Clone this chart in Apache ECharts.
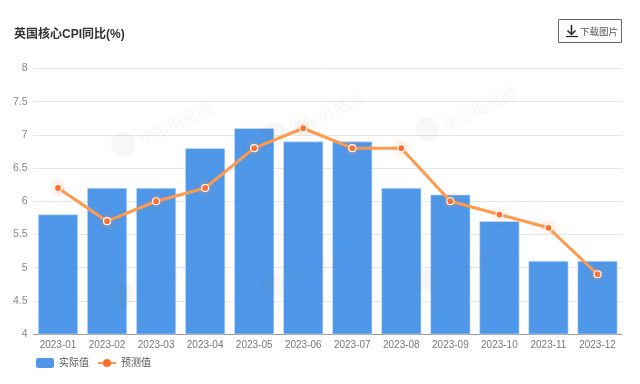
<!DOCTYPE html>
<html>
<head>
<meta charset="utf-8">
<style>
  html, body { margin: 0; padding: 0; background: #fff; }
  #chart { width: 640px; height: 384px; }
</style>
<script src="https://cdn.jsdelivr.net/npm/echarts@6/dist/echarts.min.js"></script>
</head>
<body>
<div id="chart"></div>
<script>
const months = ['2023-01', '2023-02', '2023-03', '2023-04', '2023-05', '2023-06',
  '2023-07', '2023-08', '2023-09', '2023-10', '2023-11', '2023-12']
const actual = [5.8, 6.2, 6.2, 6.8, 7.1, 6.9, 6.9, 6.2, 6.1, 5.7, 5.1, 5.1]
const forecast = [6.2, 5.7, 6.0, 6.2, 6.8, 7.1, 6.8, 6.8, 6.0, 5.8, 5.6, 4.9]

const font = '"Liberation Sans", "Noto Sans CJK SC", sans-serif'

// watermark stamps, laid faintly over the bars
function stamp(x, y) {
  return [
    { type: 'circle', z: 3, shape: { cx: x, cy: y, r: 12 }, style: { fill: 'rgba(120,120,120,0.06)' } },
    { type: 'text', z: 3, x: x + 16, y: y - 3, rotation: 25 * Math.PI / 180, originX: 0, originY: 0,
      style: { text: '华尔街见闻', fill: 'rgba(120,120,120,0.06)', font: 'bold 16px "Noto Serif CJK SC", "Noto Sans CJK SC"', verticalAlign: 'middle' } }
  ]
}

const chart = echarts.init(document.getElementById('chart'))
chart.setOption({
  animation: false,
  backgroundColor: '#fff',
  title: {
    text: '英国核心CPI同比(%)',
    left: 14,
    top: 29,
    padding: 0,
    textStyle: { fontSize: 12, fontWeight: 'bold', color: '#333', fontFamily: font }
  },
  legend: {
    left: 36,
    top: 358,
    padding: 0,
    itemWidth: 18,
    itemHeight: 10,
    itemGap: 8,
    itemStyle: { borderWidth: 0, shadowBlur: 0 },
    textStyle: { fontSize: 10, color: '#555', fontFamily: font }
  },
  grid: { left: 33.5, right: 18, top: 68.5, bottom: 50 },
  xAxis: {
    type: 'category',
    data: months,
    axisTick: { show: false },
    axisLine: { lineStyle: { color: '#999', width: 1 } },
    axisLabel: { fontSize: 10, color: '#777', margin: 6, interval: 0, fontFamily: font }
  },
  yAxis: {
    type: 'value',
    min: 4,
    max: 8,
    interval: 0.5,
    axisLine: { show: false },
    axisTick: { show: false },
    axisLabel: { fontSize: 10.5, color: '#888', margin: 6, fontFamily: font },
    splitLine: { lineStyle: { color: '#e6e6e6', width: 1 } }
  },
  series: [
    {
      name: '实际值',
      type: 'bar',
      data: actual,
      barWidth: 40,
      itemStyle: { color: '#4f97e8', borderColor: '#cfe2f8', borderWidth: 0.6 }
    },
    {
      name: '预测值',
      type: 'line',
      data: forecast,
      symbol: 'circle',
      symbolSize: 7,
      z: 5,
      lineStyle: { color: '#ff9a4d', width: 3 },
      itemStyle: {
        color: '#ff6d2d',
        borderColor: '#fff',
        borderWidth: 1.2,
        shadowColor: 'rgba(255,150,80,0.5)',
        shadowBlur: 6
      }
    }
  ],
  graphic: [
    ...stamp(123, 144), ...stamp(273, 134), ...stamp(427, 129),
    ...stamp(123, 295), ...stamp(273, 285), ...stamp(427, 280),
    { type: 'rect', shape: { x: 558.5, y: 19.5, width: 63, height: 23 },
      style: { fill: '#fff', stroke: '#666', lineWidth: 1 } },
    { type: 'polyline', shape: { points: [[571.5, 25], [571.5, 34]] }, style: { stroke: '#222', lineWidth: 1.5, fill: null } },
    { type: 'polyline', shape: { points: [[567.5, 30.5], [571.5, 34.5], [575.5, 30.5]] }, style: { stroke: '#222', lineWidth: 1.5, fill: null } },
    { type: 'line', shape: { x1: 566, y1: 36.5, x2: 578, y2: 36.5 }, style: { stroke: '#222', lineWidth: 1.2 } },
    { type: 'text', x: 580, y: 31, style: { text: '下载图片', fill: '#555', font: '9.5px "Noto Sans CJK SC"', verticalAlign: 'middle' } }
  ]
})
</script>
</body>
</html>
